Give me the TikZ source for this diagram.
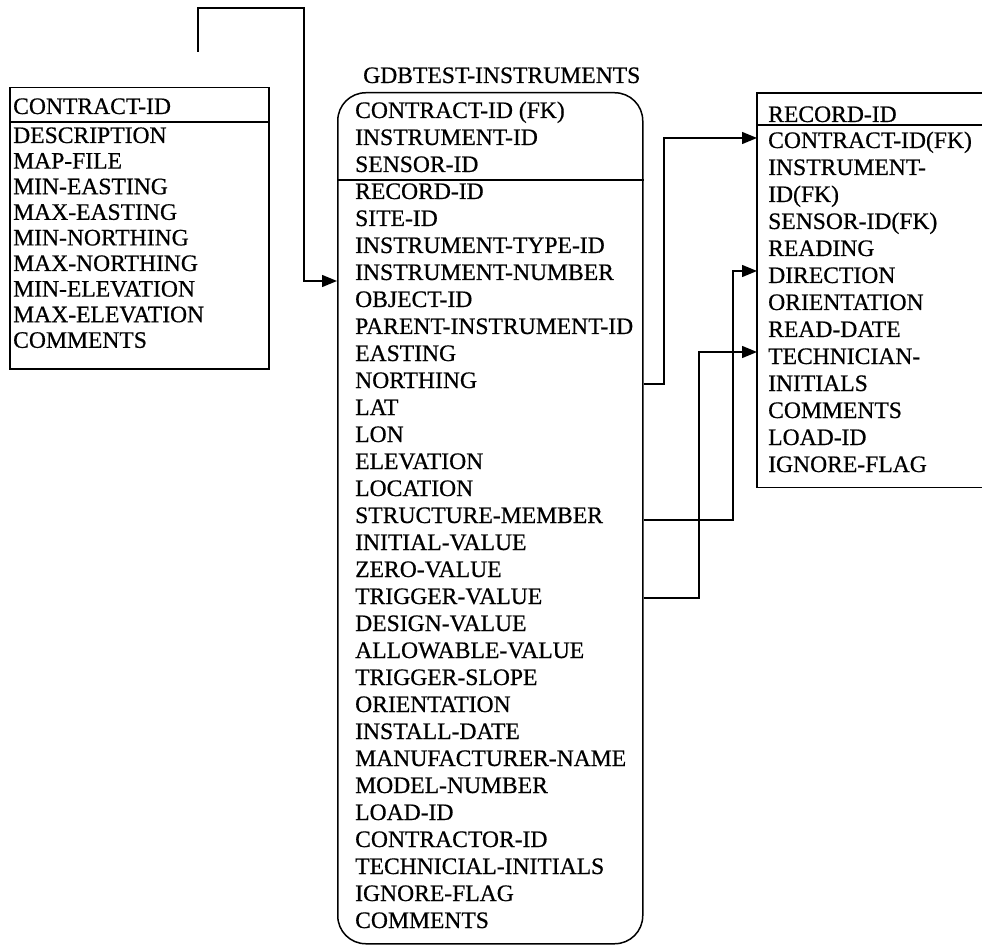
\documentclass[tikz,border=0pt]{standalone}
\usepackage{fontspec}
\setmainfont[FakeBold=0.6]{Liberation Serif}
\usetikzlibrary{arrows.meta}
\begin{document}
\begin{tikzpicture}[x=1pt,y=-1pt,
  field/.style={anchor=base west, inner sep=0pt, font=\fontsize{23.6}{27}\selectfont},
  frame/.style={line width=1.5pt},
  tablebox/.style={rectangle, inner sep=0pt, anchor=north west},
  link/.style={line width=1.4pt, -{Triangle[length=15pt,width=12pt]}},
]
\useasboundingbox (0,0) rectangle (982,949);

% ---------- contract table ----------
\node[tablebox, frame, draw, minimum width=259pt, minimum height=281pt] (contract) at (9,87) {};
\draw[frame] (contract.west |- 0,122) -- (contract.east |- 0,122);
\node[field] (c-0) at (13,114) {CONTRACT-ID};
\foreach \t [count=\i] in {DESCRIPTION,MAP-FILE,MIN-EASTING,MAX-EASTING,MIN-NORTHING,
  MAX-NORTHING,MIN-ELEVATION,MAX-ELEVATION,COMMENTS}
  \node[field] (c-\i) at (13,{143+25.6*(\i-1)}) {\t};

% ---------- instruments table ----------
\node[field] (title) at (363,83) {GDBTEST-INSTRUMENTS};
\node[tablebox, frame, draw, rounded corners=28pt, minimum width=305pt, minimum height=851pt] (instr) at (337,92) {};
\draw[frame] (instr.west |- 0,180) -- (instr.east |- 0,180);
\foreach \t [count=\i] in {CONTRACT-ID (FK),INSTRUMENT-ID,SENSOR-ID,RECORD-ID,SITE-ID,
  INSTRUMENT-TYPE-ID,INSTRUMENT-NUMBER,OBJECT-ID,PARENT-INSTRUMENT-ID,EASTING,
  NORTHING,LAT,LON,ELEVATION,LOCATION,STRUCTURE-MEMBER,INITIAL-VALUE,ZERO-VALUE,
  TRIGGER-VALUE,DESIGN-VALUE,ALLOWABLE-VALUE,TRIGGER-SLOPE,ORIENTATION,INSTALL-DATE,
  MANUFACTURER-NAME,MODEL-NUMBER,LOAD-ID,CONTRACTOR-ID,TECHNICIAL-INITIALS,
  IGNORE-FLAG,COMMENTS}
  \node[field] (m-\i) at (355,{118+27*(\i-1)}) {\t};

% ---------- readings table (runs off the right edge) ----------
\node[tablebox, minimum width=225pt, minimum height=394pt] (reading) at (757,93) {};
\draw[frame] (reading.north east) -- (reading.north west) -- (reading.south west) -- (reading.south east);
\draw[frame] (reading.west |- 0,125) -- (reading.east |- 0,125);
\node[field] (r-0) at (768,122) {RECORD-ID};
\foreach \t [count=\i] in {CONTRACT-ID(FK),INSTRUMENT-,ID(FK),SENSOR-ID(FK),READING,
  DIRECTION,ORIENTATION,READ-DATE,TECHNICIAN-,INITIALS,COMMENTS,LOAD-ID,IGNORE-FLAG}
  \node[field] (r-\i) at (768,{148+27*(\i-1)}) {\t};

% ---------- relationships ----------
\coordinate (feed) at (198,52);
\draw[link] (feed) |- (304,8) |- (instr.west |- 0,281);
\draw[link] (instr.east |- 0,384) -| (664,138) -- (reading.west |- 0,138);
\draw[link] (instr.east |- 0,520) -| (733,271) -- (reading.west |- 0,271);
\draw[link] (instr.east |- 0,598) -| (699,352) -- (reading.west |- 0,352);
\end{tikzpicture}
\end{document}
